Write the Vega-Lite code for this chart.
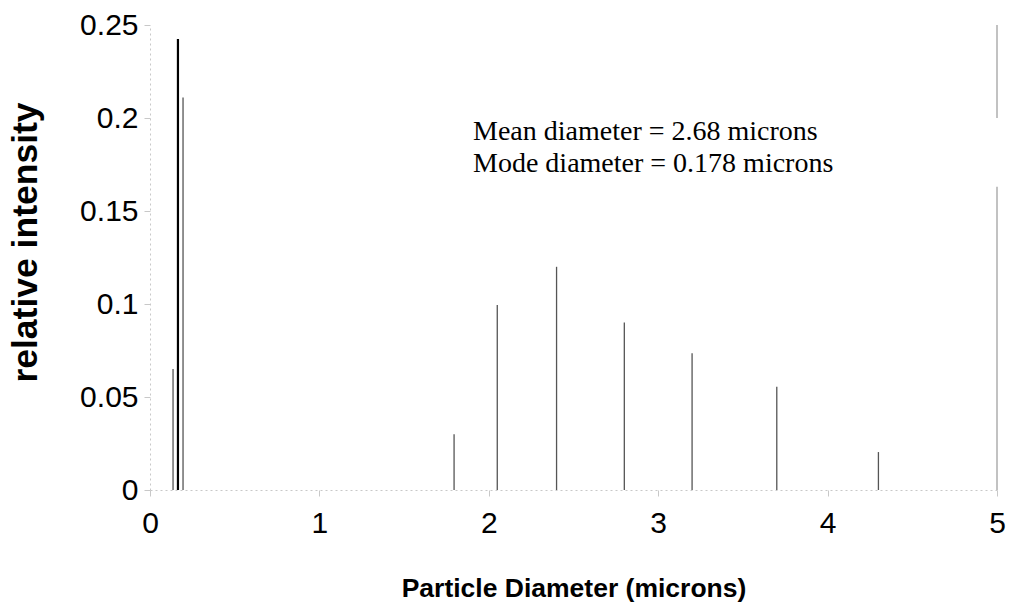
{
  "$schema": "https://vega.github.io/schema/vega-lite/v6.json",
  "width": 847,
  "height": 465,
  "autosize": {"type": "none"},
  "padding": {"left": 150, "top": 25, "right": 12, "bottom": 123},
  "background": "white",
  "config": {
    "view": {"stroke": null},
    "font": "Liberation Sans"
  },
  "datasets": {
    "spikes": [
      {"diameter": 0.136, "intensity": 0.065, "kind": "other"},
      {"diameter": 0.195, "intensity": 0.211, "kind": "other"},
      {"diameter": 1.795, "intensity": 0.030, "kind": "other"},
      {"diameter": 2.05, "intensity": 0.0995, "kind": "other"},
      {"diameter": 2.40, "intensity": 0.12, "kind": "other"},
      {"diameter": 2.80, "intensity": 0.09, "kind": "other"},
      {"diameter": 3.20, "intensity": 0.0735, "kind": "other"},
      {"diameter": 3.70, "intensity": 0.0555, "kind": "other"},
      {"diameter": 4.30, "intensity": 0.0204, "kind": "other"},
      {"diameter": 0.165, "intensity": 0.2425, "kind": "mode"}
    ],
    "border": [
      {"x": 5, "y0": 0.2, "y1": 0.25},
      {"x": 5, "y0": 0, "y1": 0.163}
    ]
  },
  "layer": [
    {
      "data": {"name": "spikes"},
      "mark": {"type": "rule"},
      "encoding": {
        "x": {
          "field": "diameter", "type": "quantitative",
          "scale": {"domain": [0, 5], "nice": false, "zero": false},
          "axis": {
            "values": [0, 1, 2, 3, 4, 5],
            "format": "d",
            "title": "Particle Diameter (microns)",
            "titleFontSize": 26.5, "titleFontWeight": "bold", "titleColor": "black",
            "titlePadding": 37,
            "labelFontSize": 30, "labelColor": "black", "labelPadding": 12,
            "labelFlush": false,
            "domainColor": "#c8c8c8", "domainDash": [2, 3],
            "tickColor": "#c8c8c8", "tickSize": 6,
            "grid": false
          }
        },
        "y": {
          "field": "intensity", "type": "quantitative",
          "scale": {"domain": [0, 0.25], "nice": false},
          "axis": {
            "values": [0, 0.05, 0.1, 0.15, 0.2, 0.25],
            "format": "~g",
            "title": "relative intensity",
            "titleFontSize": 35.5, "titleFontWeight": "bold", "titleColor": "black",
            "titlePadding": 36,
            "titleY": 217,
            "labelFontSize": 30, "labelColor": "black", "labelPadding": 6,
            "labelFlush": false,
            "domainColor": "#c8c8c8", "domainDash": [2, 3],
            "tickColor": "#c8c8c8", "tickSize": 6,
            "grid": false
          }
        },
        "y2": {"datum": 0},
        "color": {
          "field": "kind", "type": "nominal",
          "scale": {"domain": ["other", "mode"], "range": ["#555555", "#000000"]},
          "legend": null
        },
        "strokeWidth": {
          "field": "kind", "type": "nominal",
          "scale": {"domain": ["other", "mode"], "range": [1.3, 2.2]},
          "legend": null
        }
      }
    },
    {
      "data": {"name": "border"},
      "mark": {"type": "rule", "color": "#999", "strokeWidth": 1.2},
      "encoding": {
        "x": {"field": "x", "type": "quantitative"},
        "y": {"field": "y0", "type": "quantitative"},
        "y2": {"field": "y1"}
      }
    },
    {
      "data": {"values": [{}]},
      "mark": {
        "type": "text",
        "font": "Liberation Serif",
        "fontSize": 28,
        "align": "left",
        "baseline": "alphabetic",
        "lineHeight": 32,
        "color": "black"
      },
      "encoding": {
        "x": {"datum": 1.907},
        "y": {"datum": 0.188},
        "text": {"value": ["Mean diameter = 2.68 microns", "Mode diameter = 0.178 microns"]}
      }
    }
  ]
}
